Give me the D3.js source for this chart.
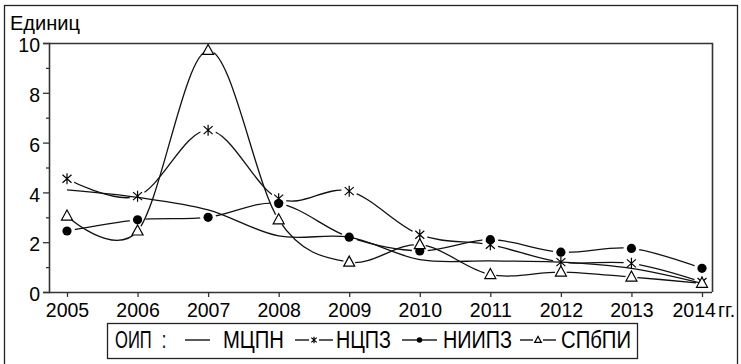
<!DOCTYPE html>
<html>
<head>
<meta charset="utf-8">
<script src="https://cdn.jsdelivr.net/npm/d3@7"></script>
<style>
  html, body { margin: 0; padding: 0; background: #fff; }
  svg { display: block; font-family: Arial, "Liberation Sans", sans-serif; }
</style>
</head>
<body>
<svg id="chart" width="741" height="364"></svg>
<script>
// Years on the horizontal axis
const years = [2005, 2006, 2007, 2008, 2009, 2010, 2011, 2012, 2013, 2014];

// Units per year for each institution
const mcpn  = [4.1, 3.8, 3.3, 2.25, 2.2, 1.3, 1.25, 1.2, 0.95, 0.35];
const ncpz  = [4.55, 3.85, 6.5, 3.75, 4.05, 2.3, 1.9, 1.2, 1.15, 0.4];
const niipz = [2.45, 2.9, 3.0, 3.55, 2.2, 1.65, 2.1, 1.6, 1.75, 0.95];
const spbpi = [3.05, 2.45, 9.7, 2.9, 1.2, 1.9, 0.7, 0.8, 0.6, 0.35];

const seriesNames = ["МЦПН", "НЦПЗ", "НИИПЗ", "СПбПИ"];
const yMajorTicks = [0, 2, 4, 6, 8, 10];
const yMinorTicks = [1, 3, 5, 7, 9];
const yTitle = "Единиц";
const xUnit = "гг.";
const legendTitle = "ОИП";

const series = [
  { name: seriesNames[0], values: mcpn,  marker: "none" },
  { name: seriesNames[1], values: ncpz,  marker: "star" },
  { name: seriesNames[2], values: niipz, marker: "dot" },
  { name: seriesNames[3], values: spbpi, marker: "tri" }
];

const svg = d3.select("#chart");

// Outer frame
svg.append("rect")
  .attr("x", 4.5).attr("y", 5.5).attr("width", 733).attr("height", 370)
  .attr("fill", "none").attr("stroke", "#222").attr("stroke-width", 1.3);

const plotL = 49, plotR = 712, plotT = 43, plotB = 292;

const x = d3.scaleLinear().domain([2005, 2014]).range([67, 702]);
const y = d3.scaleLinear().domain([0, 10]).range([plotB, plotT]);

// Plot box: top and right edges
svg.append("path")
  .attr("d", `M${plotL},${plotT + 0.5}H${plotR + 0.5}V${plotB}`)
  .attr("fill", "none").attr("stroke", "#333").attr("stroke-width", 1.6);

// Y axis, major and minor ticks
const yAxis = svg.append("g")
  .attr("transform", `translate(${plotL},0)`)
  .call(d3.axisLeft(y).tickValues(yMajorTicks).tickSize(6).tickPadding(3).tickFormat(d3.format("d")));
svg.append("g")
  .attr("transform", `translate(${plotL},0)`)
  .call(d3.axisLeft(y).tickValues(yMinorTicks).tickSize(3).tickFormat(""))
  .select(".domain").remove();

yAxis.selectAll("text").attr("font-size", 19.5).attr("fill", "#000").attr("dy", "0.45em");

// X axis
const xAxis = svg.append("g")
  .attr("transform", `translate(0,${plotB})`)
  .call(d3.axisBottom(x).tickValues(years).tickSize(5).tickPadding(6).tickFormat(d3.format("d")));
xAxis.select(".domain").attr("d", `M${plotL},0.5H${plotR}`);
xAxis.selectAll("text").attr("font-size", 19.5).attr("fill", "#000");
// last label carries the unit
xAxis.selectAll(".tick").filter(d => d === 2014).select("text")
  .text(null)
  .call(t => {
    t.append("tspan").text("2014");
    t.append("tspan").attr("dx", 2).text(xUnit);
  })
  .attr("text-anchor", "start")
  .attr("x", -30);

svg.selectAll(".domain").attr("stroke", "#333").attr("stroke-width", 1.6);
svg.selectAll(".tick line").attr("stroke", "#333").attr("stroke-width", 1.3);

// Axis title
svg.append("text")
  .attr("x", 10).attr("y", 30)
  .attr("font-size", 21)
  .attr("textLength", 70).attr("lengthAdjust", "spacingAndGlyphs")
  .text(yTitle);

// Marker shapes
function drawMarker(g, type, cx, cy, scale) {
  const s = scale || 1;
  if (type === "star") {
    g.append("path")
      .attr("d", `M${cx},${cy - 5.5 * s}V${cy + 5.5 * s}M${cx - 4.5 * s},${cy - 4 * s}L${cx + 4.5 * s},${cy + 4 * s}M${cx - 4.5 * s},${cy + 4 * s}L${cx + 4.5 * s},${cy - 4 * s}`)
      .attr("stroke", "#000").attr("stroke-width", 1.2).attr("fill", "none");
  } else if (type === "dot") {
    g.append("circle").attr("cx", cx).attr("cy", cy).attr("r", 4.6 * s).attr("fill", "#000");
  } else if (type === "tri") {
    g.append("path")
      .attr("d", `M${cx},${cy - 6 * s}L${cx + 5.5 * s},${cy + 4 * s}L${cx - 5.5 * s},${cy + 4 * s}Z`)
      .attr("stroke", "#000").attr("stroke-width", 1.2).attr("fill", "#fff");
  }
}

const defs = svg.append("defs");
const line = d3.line()
  .x((d, i) => x(years[i]))
  .y(d => y(d))
  .curve(d3.curveCardinal.tension(0));

const gapRadius = { none: 0, star: 8, dot: 8, tri: 6 };

series.forEach((s, k) => {
  const id = "gap" + k;
  const m = defs.append("mask").attr("id", id).attr("maskUnits", "userSpaceOnUse")
    .attr("x", 0).attr("y", 0).attr("width", 741).attr("height", 364);
  m.append("rect").attr("width", 741).attr("height", 364).attr("fill", "#fff");
  if (gapRadius[s.marker] > 0) {
    s.values.forEach((v, i) => {
      m.append("circle").attr("cx", x(years[i])).attr("cy", y(v)).attr("r", gapRadius[s.marker]).attr("fill", "#000");
    });
  }
  svg.append("path")
    .datum(s.values)
    .attr("d", line)
    .attr("fill", "none")
    .attr("stroke", "#111")
    .attr("stroke-width", 1.3)
    .attr("mask", `url(#${id})`);
});

const markers = svg.append("g");
series.forEach(s => {
  s.values.forEach((v, i) => drawMarker(markers, s.marker, x(years[i]), y(v)));
});

// Legend
const lg = svg.append("g");
lg.append("rect")
  .attr("x", 107.5).attr("y", 323.5).attr("width", 530).attr("height", 35)
  .attr("fill", "#fff").attr("stroke", "#222").attr("stroke-width", 1.3);

const ly = 340, lb = 348, lfs = 23;
const title = lg.append("text")
  .attr("transform", `translate(115,${lb}) scale(0.72,1)`)
  .attr("font-size", lfs);
title.append("tspan").text(legendTitle);
title.append("tspan").attr("dx", 14).text(":");

const legendItems = [
  { s: series[0], x0: 185, x1: 210, tx: 223, tw: 61 },
  { s: series[1], x0: 295, x1: 333, tx: 336, tw: 55 },
  { s: series[2], x0: 402, x1: 437, tx: 443, tw: 69 },
  { s: series[3], x0: 520, x1: 556, tx: 561, tw: 70 }
];
legendItems.forEach(it => {
  const g = lg.append("g");
  const mid = (it.x0 + it.x1) / 2;
  if (it.s.marker === "none") {
    g.append("line").attr("x1", it.x0).attr("x2", it.x1).attr("y1", ly).attr("y2", ly)
      .attr("stroke", "#000").attr("stroke-width", 1.3);
  } else {
    const gap = it.s.marker === "dot" ? 0 : 5;
    g.append("line").attr("x1", it.x0).attr("x2", mid - gap).attr("y1", ly).attr("y2", ly)
      .attr("stroke", "#000").attr("stroke-width", 1.3);
    g.append("line").attr("x1", mid + gap).attr("x2", it.x1).attr("y1", ly).attr("y2", ly)
      .attr("stroke", "#000").attr("stroke-width", 1.3);
    drawMarker(g, it.s.marker, mid, ly, 0.6);
  }
  g.append("text").attr("x", it.tx).attr("y", lb).attr("font-size", lfs)
    .attr("textLength", it.tw).attr("lengthAdjust", "spacingAndGlyphs")
    .text(it.s.name);
});
</script>
</body>
</html>
